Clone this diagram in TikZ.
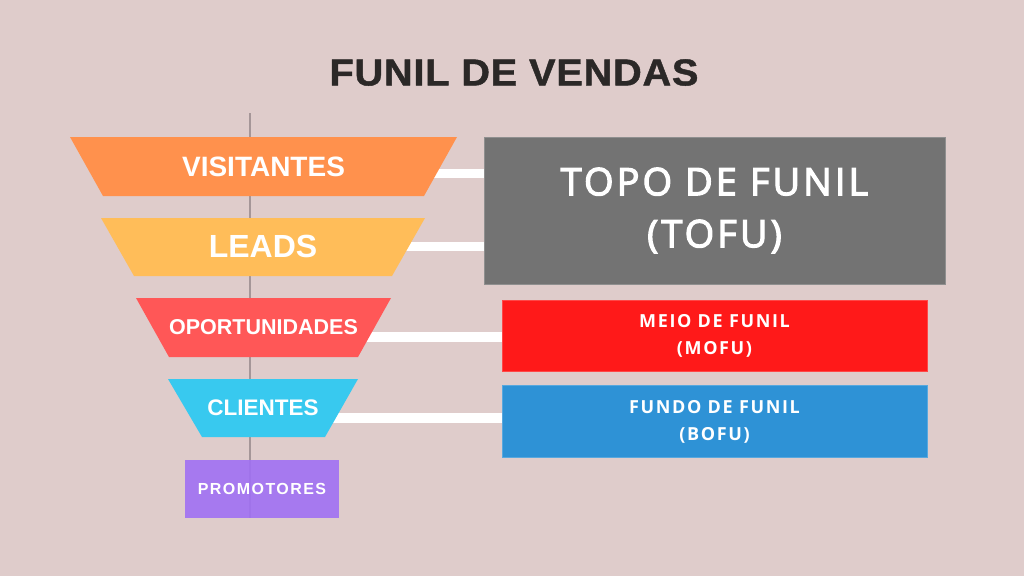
\documentclass[tikz,border=0pt]{standalone}
\usepackage{fontspec}
\setmainfont{Liberation Sans}
\newfontfamily\titlefont[FakeStretch=1.06,LetterSpace=2,FakeBold=1.2]{Liberation Sans}
\newfontfamily\promofont[LetterSpace=9]{Liberation Sans}
\newfontfamily\boxfont[LetterSpace=9]{Open Sans}
\newfontfamily\tofufont[LetterSpace=8,FakeBold=3]{Open Sans}
\definecolor{bgc}{RGB}{223,204,203}
\definecolor{axisc}{RGB}{165,150,152}
\definecolor{c1}{RGB}{255,145,77}
\definecolor{c2}{RGB}{255,189,89}
\definecolor{c3}{RGB}{255,87,87}
\definecolor{c4}{RGB}{56,201,239}
\definecolor{c5}{RGB}{160,112,244}
\definecolor{tofuc}{RGB}{115,115,115}
\definecolor{mofuc}{RGB}{255,25,25}
\definecolor{bofuc}{RGB}{46,146,214}
\definecolor{titlec}{RGB}{43,40,39}
\pgfdeclarelayer{bglayer}
\pgfdeclarelayer{back}
\pgfsetlayers{bglayer,back,main}
\begin{document}
\begin{tikzpicture}[x=1pt,y=-1pt,
  traptext/.style={text=white,font=\bfseries\fontsize{#1}{#1}\selectfont,inner sep=0pt},
  stagebox/.style={fill=#1,draw=#1!80!white,line width=0.6pt,text=white,align=center,inner sep=0pt},
  conn/.style={draw=white,line width=9.5pt}]
\begin{pgfonlayer}{bglayer}
\fill[bgc] (0,0) rectangle (1024,576);
\end{pgfonlayer}
\useasboundingbox (0,0) rectangle (1024,576);

% title
\node[text=titlec,font=\titlefont\bfseries\fontsize{37.5}{37.5}\selectfont,inner sep=0pt] (title) at (514,72.5) {FUNIL DE VENDAS};

% axis line
\coordinate (ltop) at (250,113);
\coordinate (lbot) at (250,518);
\begin{pgfonlayer}{back}
\draw[axisc,line width=1.3pt] (ltop) -- (lbot);
\end{pgfonlayer}

% funnel
\fill[c1] (70,137) -- (457,137) -- (424,196) -- (103,196) -- cycle;
\node[traptext=28] (vis) at (263.5,166.5) {VISITANTES};
\fill[c2] (101,218) -- (425,218) -- (392,276) -- (134,276) -- cycle;
\node[traptext=32] (lea) at (263,246.5) {LEADS};
\fill[c3] (136,298) -- (391,298) -- (358,357) -- (169,357) -- cycle;
\node[traptext=21.5] (opo) at (263.5,327) {OPORTUNIDADES};
\fill[c4] (168,379) -- (358,379) -- (325,437) -- (202,437) -- cycle;
\node[traptext=22.5] (cli) at (263,407.5) {CLIENTES};
\node[fill=c5,fill opacity=0.9,text opacity=1,text=white,minimum width=154pt,minimum height=58pt,inner sep=0pt,
  font=\promofont\bfseries\fontsize{16}{16}\selectfont] (pro) at (262,489) {PROMOTORES};

% stage boxes
\node[stagebox=tofuc,minimum width=461pt,minimum height=147pt,font=\tofufont\fontsize{38}{52}\selectfont] (tofu) at (714.5,210.5) {TOPO DE FUNIL\\(TOFU)};
\node[stagebox=mofuc,minimum width=425pt,minimum height=71pt,font=\boxfont\bfseries\fontsize{18}{27}\selectfont] (mofu) at (714.5,336) {MEIO DE FUNIL\\(MOFU)};
\node[stagebox=bofuc,minimum width=425pt,minimum height=72pt,font=\boxfont\bfseries\fontsize{18}{27}\selectfont] (bofu) at (714.5,421.5) {FUNDO DE FUNIL\\(BOFU)};

% connectors
\begin{pgfonlayer}{back}
\draw[conn] ([yshift=-7pt]vis.center) -- ([yshift=-7pt]vis.center -| tofu.west);
\draw[conn] (lea.center) -- (lea.center -| tofu.west);
\draw[conn] ([yshift=-10pt]opo.center) -- ([yshift=-10pt]opo.center -| mofu.west);
\draw[conn] ([yshift=-10.5pt]cli.center) -- ([yshift=-10.5pt]cli.center -| bofu.west);
\end{pgfonlayer}
\end{tikzpicture}
\end{document}
